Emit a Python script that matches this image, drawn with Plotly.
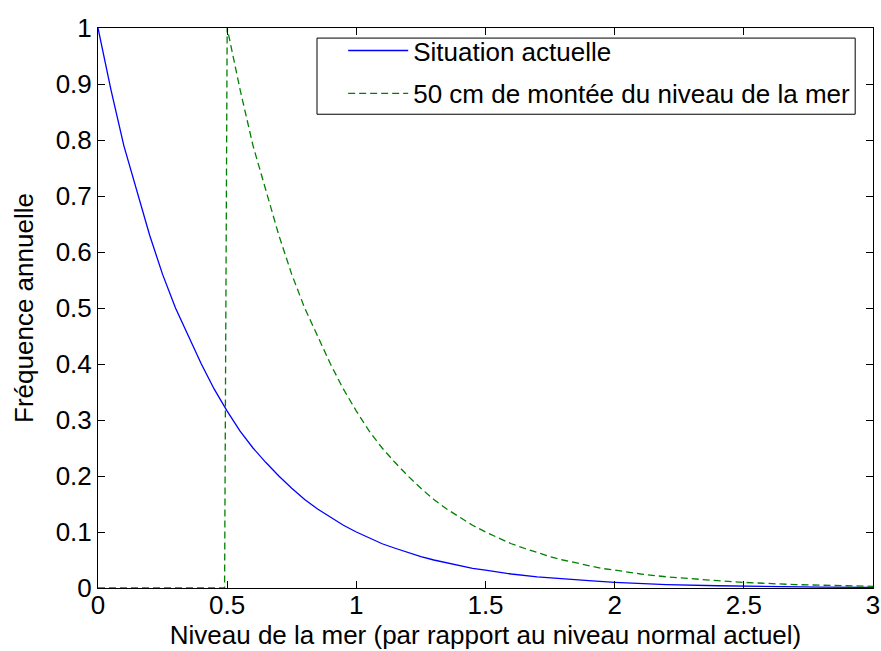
import plotly.graph_objects as go

# Current situation (blue)
x_now = [0, 0.05, 0.1, 0.15, 0.2, 0.25, 0.3, 0.35, 0.4, 0.45, 0.5, 0.55, 0.6, 0.65, 0.7,
         0.75, 0.8, 0.85, 0.9, 0.95, 1.0, 1.05, 1.1, 1.15, 1.2, 1.25, 1.3, 1.35, 1.4, 1.45,
         1.5, 1.6, 1.7, 1.8, 1.9, 2.0, 2.2, 2.4, 2.6, 2.8, 3.0]
y_now = [1.0, 0.89, 0.79, 0.71, 0.63, 0.56, 0.50, 0.45, 0.40, 0.355, 0.316, 0.28, 0.25, 0.224, 0.20,
         0.178, 0.158, 0.141, 0.126, 0.112, 0.10, 0.089, 0.079, 0.071, 0.063, 0.056, 0.050, 0.045, 0.040, 0.035,
         0.032, 0.025, 0.020, 0.016, 0.013, 0.010, 0.006, 0.004, 0.0025, 0.0016, 0.001]

# 50 cm sea-level rise (green dashed)
x_rise = [0, 0.49, 0.5, 0.55, 0.6, 0.65, 0.7, 0.75, 0.8, 0.85, 0.9, 0.95, 1.0, 1.05, 1.1, 1.15, 1.2,
          1.25, 1.3, 1.35, 1.4, 1.45, 1.5, 1.55, 1.6, 1.65, 1.7, 1.75, 1.8, 1.85, 1.9, 1.95,
          2.0, 2.1, 2.2, 2.3, 2.4, 2.5, 2.7, 2.9, 3.0]
y_rise = [0, 0, 1.0, 0.89, 0.79, 0.71, 0.63, 0.56, 0.50, 0.45, 0.40, 0.355, 0.316, 0.28, 0.25, 0.224, 0.20,
          0.178, 0.158, 0.141, 0.126, 0.112, 0.10, 0.089, 0.079, 0.071, 0.063, 0.056, 0.050, 0.045, 0.040, 0.035,
          0.032, 0.025, 0.020, 0.016, 0.013, 0.010, 0.006, 0.004, 0.003]

x_ticks = [0, 0.5, 1, 1.5, 2, 2.5, 3]
x_ticklabels = ["0", "0.5", "1", "1.5", "2", "2.5", "3"]
y_ticks = [0, 0.1, 0.2, 0.3, 0.4, 0.5, 0.6, 0.7, 0.8, 0.9, 1]
y_ticklabels = ["0", "0.1", "0.2", "0.3", "0.4", "0.5", "0.6", "0.7", "0.8", "0.9", "1"]

FONT = "Liberation Sans, Arial, sans-serif"
FS = 26

fig = go.Figure()
fig.add_trace(go.Scatter(x=x_now, y=y_now, mode="lines", name="Situation actuelle",
                         legendgroup="a",
                         line=dict(color="#0000ff", width=1.3)))
fig.add_trace(go.Scatter(x=x_rise, y=y_rise, mode="lines",
                         name="50 cm de montée du niveau de la mer", legendgroup="b",
                         line=dict(color="#008000", width=1.3, dash="7px,4px")))

axis_common = dict(showgrid=False, zeroline=False, showline=True, linecolor="black", linewidth=1,
                   mirror="allticks", ticks="inside", ticklen=7, tickcolor="black",
                   automargin=False, ticklabeloverflow="allow",
                   tickfont=dict(family=FONT, size=FS, color="black"))

# legend frame (white box hiding the curves beneath the legend, as in the original)
fig.add_shape(type="rect", xref="paper", yref="paper",
              x0=0.2826, x1=0.977, y0=0.846, y1=0.982,
              line=dict(color="black", width=1), fillcolor="white", layer="above")

fig.update_layout(
    width=881, height=651,
    margin=dict(l=98, r=8, t=28, b=63),
    paper_bgcolor="white", plot_bgcolor="white",
    font=dict(family=FONT, color="black"),
    xaxis=dict(range=[0, 3], tickvals=x_ticks, ticktext=x_ticklabels, ticklabelstandoff=-6,
               title=dict(text="Niveau de la mer (par rapport au niveau normal actuel)",
                          font=dict(family=FONT, size=FS), standoff=6),
               **axis_common),
    yaxis=dict(range=[0, 1], tickvals=y_ticks, ticktext=y_ticklabels,
               title=dict(text="Fréquence annuelle", font=dict(family=FONT, size=FS), standoff=14),
               **axis_common),
    legend=dict(x=0.977, y=1.0016, xanchor="right", yanchor="top",
                bgcolor="rgba(0,0,0,0)", borderwidth=0,
                font=dict(family=FONT, size=FS, color="black"), itemwidth=60,
                tracegroupgap=6),
    showlegend=True,
)

fig.write_html("out.html", config={"displayModeBar": False},
               post_script="document.body.style.margin='0';")
